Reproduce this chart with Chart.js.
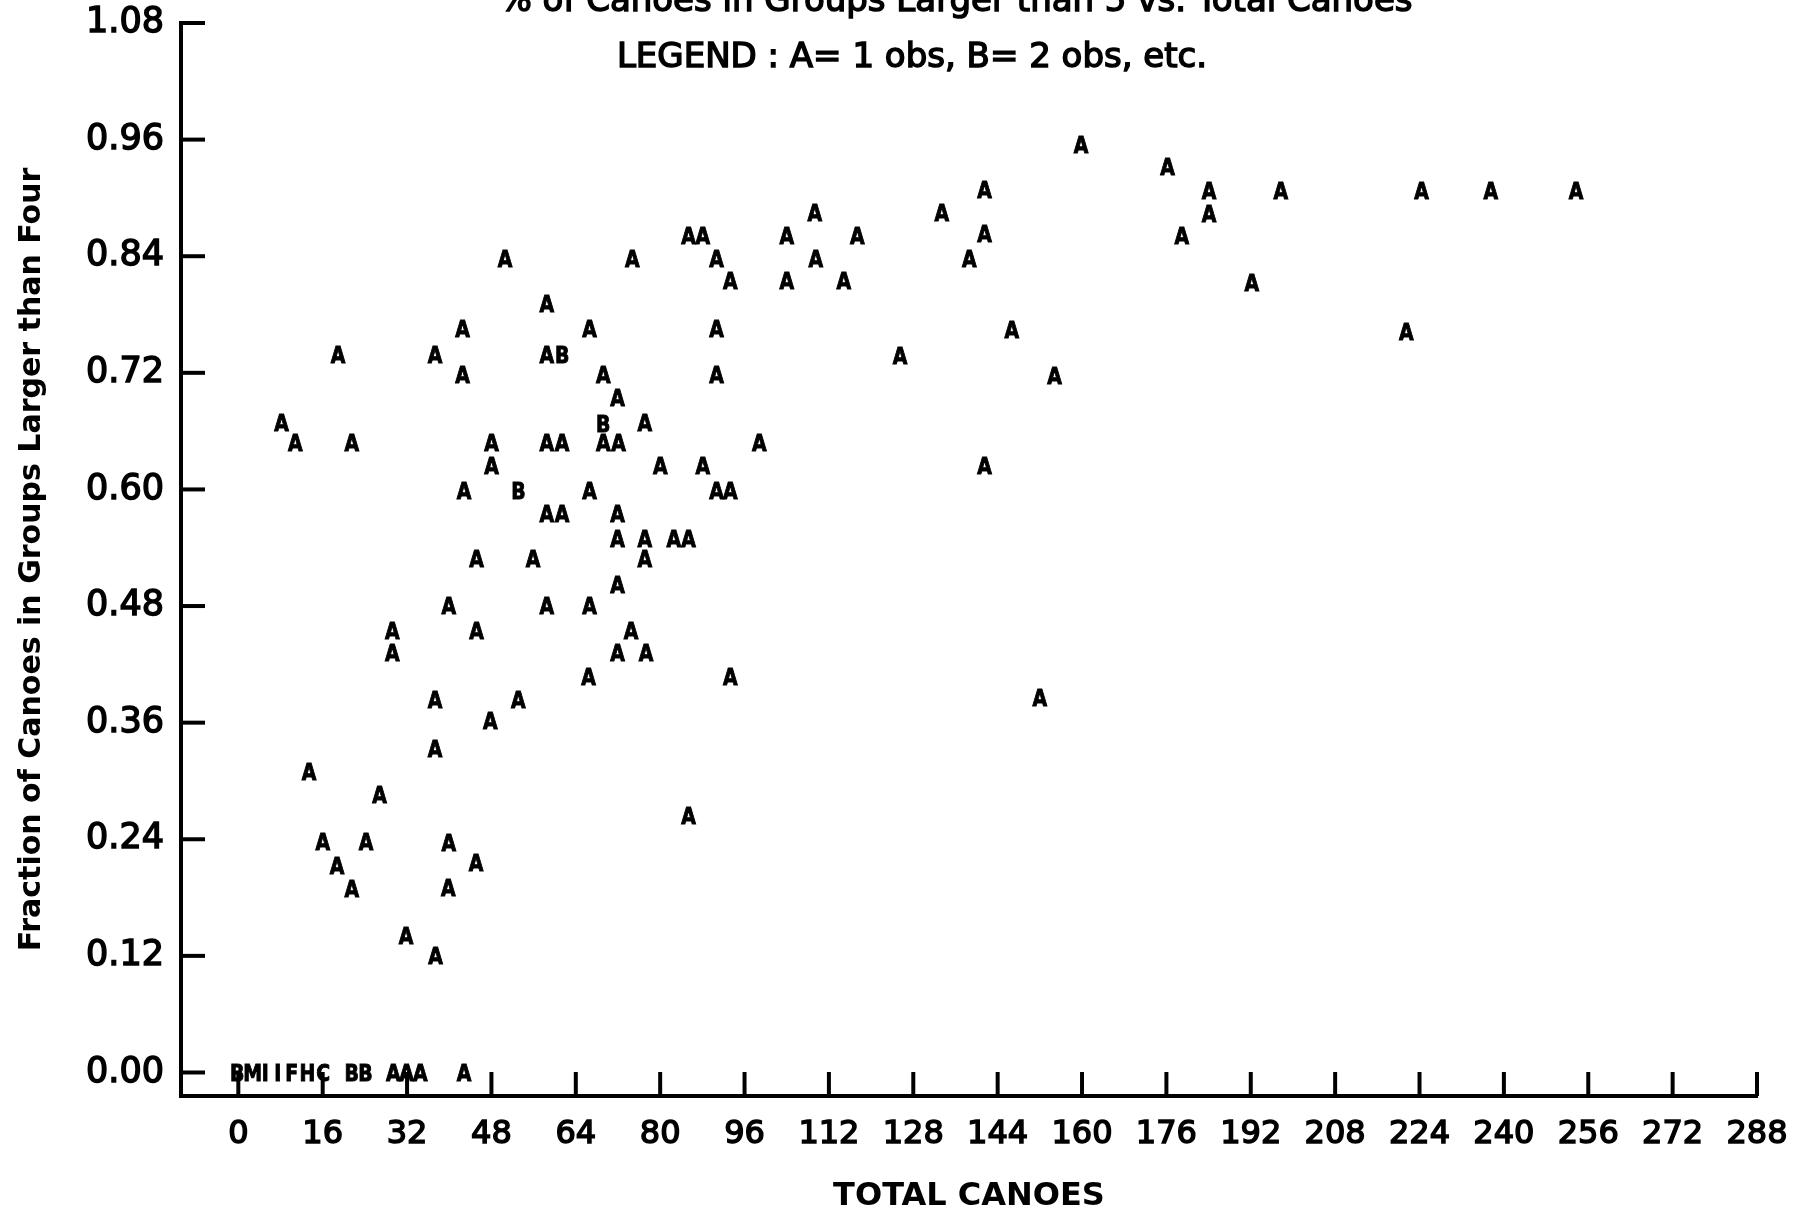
<!DOCTYPE html>
<html>
<head>
<meta charset="utf-8">
<title>Canoes in groups vs total canoes</title>
<script src="https://cdn.jsdelivr.net/npm/chart.js@4.4.1/dist/chart.umd.min.js"></script>
<style>
  html, body { margin: 0; padding: 0; background: #fff; }
  canvas { display: block; }
</style>
</head>
<body>
<canvas id="canoe-chart" width="1809" height="1213"></canvas>
<script>
// tick labels
const xTickValues = [0, 16, 32, 48, 64, 80, 96, 112, 128, 144, 160, 176, 192, 208, 224, 240, 256, 272, 288];
const yTickValues = [0, 0.12, 0.24, 0.36, 0.48, 0.60, 0.72, 0.84, 0.96, 1.08];

const canoes = [
  159.8, 176.2, 141.5, 184.1, 197.7, 224.4, 237.5, 253.7,
  109.3, 133.4, 184.1,
  85.4, 88.1, 104.0, 117.4, 141.5, 178.9,
  50.6, 74.7, 90.7, 109.5, 138.6,
  93.3, 104.0, 114.8, 192.2,
  58.5,
  42.5, 66.6, 90.7, 146.7, 221.5,
  18.9, 37.3, 58.5, 61.4, 125.5,
  42.5, 69.2, 90.7, 154.8,
  71.9,
  8.2, 69.2, 77.1,
  10.8, 21.5, 48.0, 58.5, 61.4, 69.2, 72.1, 98.8,
  48.0, 80.0, 88.1, 141.5,
  42.8, 53.1, 66.6, 90.7, 93.3,
  58.5, 61.4, 71.9,
  71.9, 77.1, 82.6, 85.4,
  45.2, 55.9, 77.1,
  71.9,
  39.9, 58.5, 66.6,
  29.2, 45.2, 74.5,
  29.2, 71.9, 77.3,
  66.4, 93.3,
  37.3, 53.1, 152.0,
  47.8,
  37.3,
  13.4,
  26.8,
  85.4,
  16.0, 24.2, 39.9,
  18.7, 45.1,
  21.5, 39.8,
  31.8,
  37.4,
  -0.2, 2.7, 5.1, 7.5, 10.1, 13.1, 16.1, 21.5, 24.1, 29.4, 31.9, 34.5, 42.8
];

const fraction = [
  0.955, 0.932, 0.909, 0.908, 0.908, 0.908, 0.908, 0.908,
  0.885, 0.885, 0.884,
  0.861, 0.861, 0.861, 0.861, 0.863, 0.861,
  0.838, 0.838, 0.838, 0.838, 0.838,
  0.815, 0.815, 0.815, 0.813,
  0.791,
  0.765, 0.765, 0.765, 0.764, 0.762,
  0.739, 0.739, 0.739, 0.739, 0.738,
  0.718, 0.718, 0.718, 0.717,
  0.695,
  0.669, 0.668, 0.669,
  0.648, 0.648, 0.648, 0.648, 0.648, 0.648, 0.648, 0.648,
  0.625, 0.625, 0.625, 0.625,
  0.599, 0.599, 0.599, 0.599, 0.599,
  0.575, 0.575, 0.575,
  0.549, 0.549, 0.549, 0.549,
  0.529, 0.529, 0.529,
  0.502,
  0.480, 0.480, 0.480,
  0.455, 0.455, 0.455,
  0.432, 0.432, 0.432,
  0.407, 0.407,
  0.384, 0.384, 0.386,
  0.362,
  0.333,
  0.310,
  0.286,
  0.264,
  0.238, 0.238, 0.237,
  0.213, 0.216,
  0.189, 0.190,
  0.141,
  0.120,
  0, 0, 0, 0, 0, 0, 0, 0, 0, 0, 0, 0, 0
];

// number of observations at each spot: 1 = A, 2 = B, ...
const obs = [
  1, 1, 1, 1, 1, 1, 1, 1,
  1, 1, 1,
  1, 1, 1, 1, 1, 1,
  1, 1, 1, 1, 1,
  1, 1, 1, 1,
  1,
  1, 1, 1, 1, 1,
  1, 1, 1, 2, 1,
  1, 1, 1, 1,
  1,
  1, 2, 1,
  1, 1, 1, 1, 1, 1, 1, 1,
  1, 1, 1, 1,
  1, 2, 1, 1, 1,
  1, 1, 1,
  1, 1, 1, 1,
  1, 1, 1,
  1,
  1, 1, 1,
  1, 1, 1,
  1, 1, 1,
  1, 1,
  1, 1, 1,
  1,
  1,
  1,
  1,
  1,
  1, 1, 1,
  1, 1,
  1, 1,
  1,
  1,
  2, 13, 9, 9, 6, 8, 3, 2, 2, 1, 1, 1, 1
];

const points = canoes.map((x, i) => ({ x: x, y: fraction[i] }));
const letters = obs.map(n => String.fromCharCode(64 + n));

Chart.defaults.font.family = "'DejaVu Sans', sans-serif";
Chart.defaults.color = '#000';


// white paper behind everything
const paper = {
  id: 'paper',
  beforeDraw(chart) {
    const ctx = chart.ctx;
    ctx.save();
    ctx.fillStyle = '#fff';
    ctx.fillRect(0, 0, chart.width, chart.height);
    ctx.restore();
  }
};

// tick marks point into the plot on this old chart
const innerTicks = {
  id: 'innerTicks',
  afterDraw(chart) {
    const { ctx, chartArea, scales } = chart;
    ctx.save();
    ctx.strokeStyle = '#000';
    ctx.lineWidth = 4;
    yTickValues.forEach(v => {
      const py = scales.y.getPixelForValue(v);
      ctx.beginPath();
      ctx.moveTo(chartArea.left, py);
      ctx.lineTo(chartArea.left + 24, py);
      ctx.stroke();
    });
    xTickValues.forEach(v => {
      const px = scales.x.getPixelForValue(v);
      ctx.beginPath();
      ctx.moveTo(px, chartArea.bottom);
      ctx.lineTo(px, chartArea.bottom - 24);
      ctx.stroke();
    });
    ctx.restore();
  }
};

// each point is printed as a letter
const letterMarks = {
  id: 'letterMarks',
  afterDatasetsDraw(chart) {
    const ctx = chart.ctx;
    const meta = chart.getDatasetMeta(0);
    ctx.save();
    ctx.fillStyle = '#000';
    ctx.strokeStyle = '#000';
    ctx.lineWidth = 1;
    ctx.font = "bold 23px 'DejaVu Sans', sans-serif";
    ctx.textAlign = 'center';
    ctx.textBaseline = 'alphabetic';
    meta.data.forEach((el, i) => {
      ctx.save();
      ctx.translate(el.x, el.y);
      ctx.scale(0.82, 1);
      ctx.fillText(letters[i], 0, 8.4);
      ctx.strokeText(letters[i], 0, 8.4);
      ctx.restore();
    });
    ctx.restore();
  }
};

// title (cut off at the top of the scan) and legend line
const headings = {
  id: 'headings',
  afterDraw(chart) {
    const ctx = chart.ctx;
    ctx.save();
    ctx.fillStyle = '#000';
    ctx.strokeStyle = '#000';
    ctx.lineWidth = 1.5;
    ctx.textAlign = 'center';
    ctx.font = "34px 'DejaVu Sans', sans-serif";
    ctx.textBaseline = 'alphabetic';
    ctx.fillText('% of Canoes in Groups Larger than 5 vs. Total Canoes', 956, 11);
    ctx.strokeText('% of Canoes in Groups Larger than 5 vs. Total Canoes', 956, 11);
    ctx.textBaseline = 'middle';
    ctx.fillText('LEGEND : A= 1 obs, B= 2 obs, etc.', 912, 58);
    ctx.strokeText('LEGEND : A= 1 obs, B= 2 obs, etc.', 912, 58);
    ctx.restore();
  }
};


const canoeChart = new Chart(document.getElementById('canoe-chart'), {
  type: 'scatter',
  data: {
    datasets: [{
      data: points,
      pointRadius: 0,
      pointHoverRadius: 0
    }]
  },
  options: {
    responsive: false,
    animation: false,
    layout: {
      padding: { top: 23, right: 52, left: 0, bottom: 0 }
    },
    plugins: {
      legend: { display: false },
      tooltip: { enabled: false }
    },
    scales: {
      x: {
        type: 'linear',
        min: -10.87,
        max: 288,
        afterBuildTicks: (scale) => {
          scale.ticks = xTickValues.map(v => ({ value: v }));
        },
        afterFit: (scale) => {
          scale.height = 117;
          scale.paddingLeft = 0;
          scale.paddingRight = 0;
        },
        grid: { display: false, drawTicks: false },
        border: { display: true, color: '#000', width: 4 },
        ticks: {
          color: '#000',
          font: { size: 32 },
          padding: 19,
          maxRotation: 0,
          autoSkip: false,
          textStrokeColor: '#000',
          textStrokeWidth: 1.5
        },
        title: {
          display: true,
          text: 'TOTAL CANOES',
          color: '#000',
          font: { size: 32, weight: 'bold', lineHeight: 1 },
          padding: { top: 0, bottom: 0 }
        }
      },
      y: {
        type: 'linear',
        min: -0.0242,
        max: 1.08,
        afterBuildTicks: (scale) => {
          scale.ticks = yTickValues.map(v => ({ value: v }));
        },
        afterFit: (scale) => {
          scale.width = 181;
          scale.paddingTop = 0;
          scale.paddingBottom = 0;
        },
        grid: { display: false, drawTicks: false },
        border: { display: true, color: '#000', width: 4 },
        ticks: {
          color: '#000',
          font: { size: 35 },
          padding: 17,
          callback: (v) => Number(v).toFixed(2),
          textStrokeColor: '#000',
          textStrokeWidth: 1.5
        },
        title: {
          display: true,
          text: 'Fraction of Canoes in Groups Larger than Four',
          color: '#000',
          font: { size: 30, weight: 'bold', lineHeight: 1 },
          padding: { top: 17, bottom: 0 }
        }
      }
    }
  },
  plugins: [paper, innerTicks, letterMarks, headings]
});
</script>
</body>
</html>
